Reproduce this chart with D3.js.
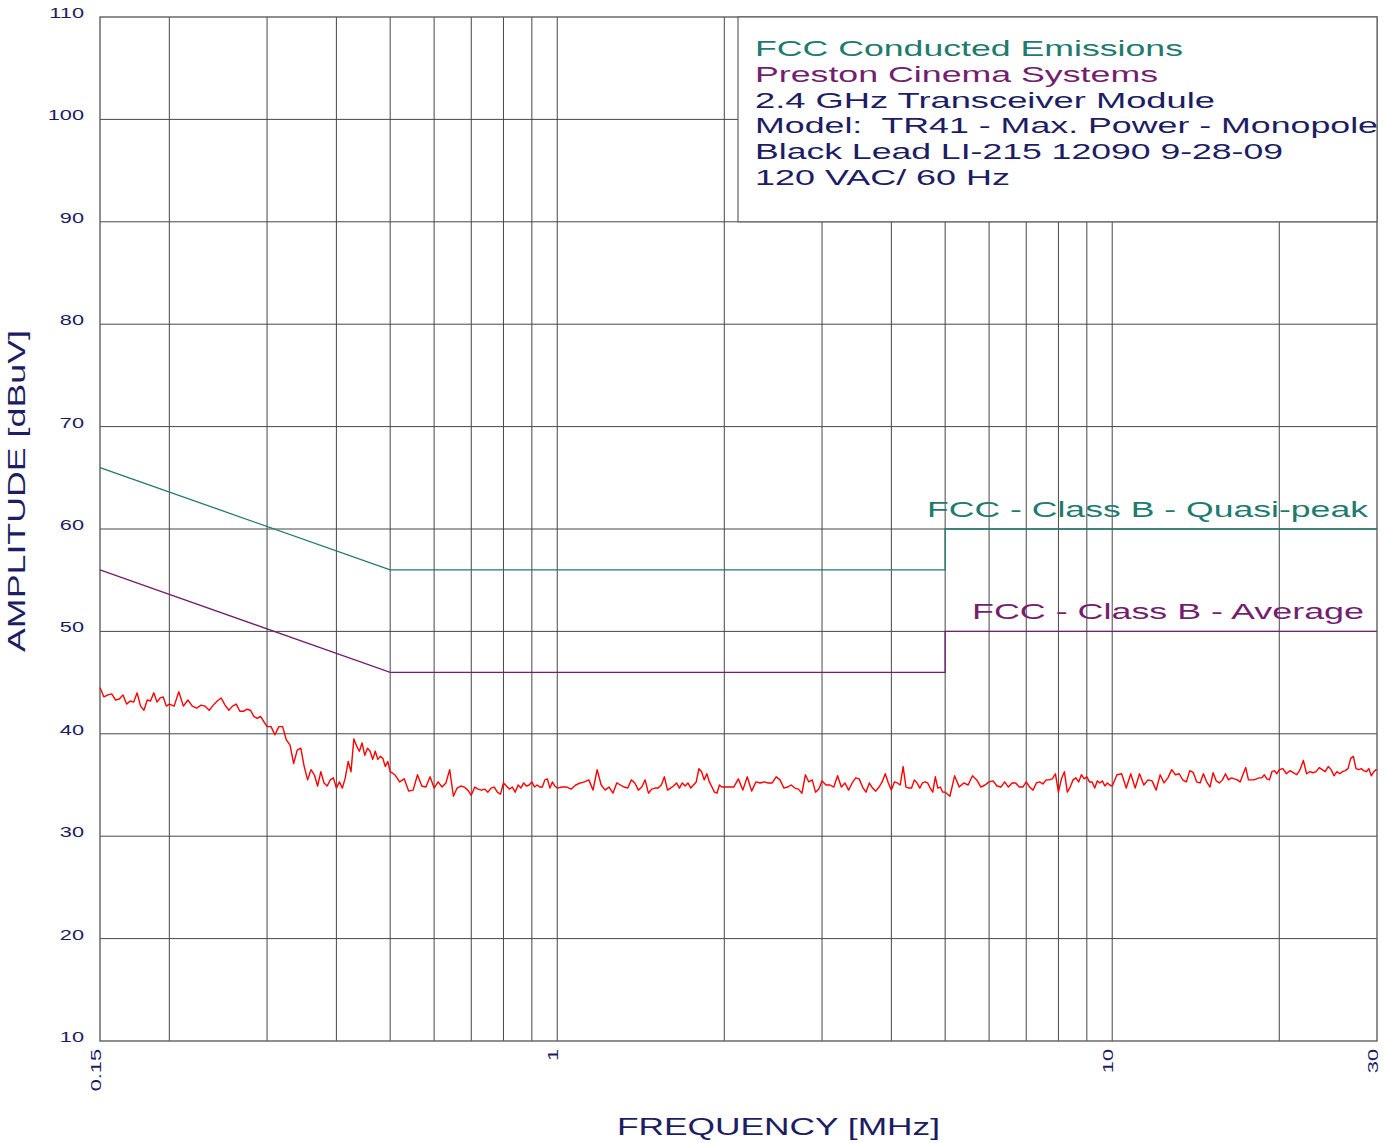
<!DOCTYPE html>
<html>
<head>
<meta charset="utf-8">
<script src="https://cdn.jsdelivr.net/npm/d3@7"></script>
<style>
  body { margin: 0; background: #fff; }
  svg { display: block; }
  text { font-family: "Liberation Sans", Arial, Helvetica, sans-serif; white-space: pre; }
</style>
</head>
<body>
<svg id="chart" width="1385" height="1143"></svg>
<script>
// ---- Axis ticks and grid ----
const yTicks = [10, 20, 30, 40, 50, 60, 70, 80, 90, 100, 110];
const xTickValues = [0.15, 1, 10, 30];
const xTickLabels = ["0.15", "1", "10", "30"];
const xGridValues = [0.2, 0.3, 0.4, 0.5, 0.6, 0.7, 0.8, 0.9, 1, 2, 3, 4, 5, 6, 7, 8, 9, 10, 20];

// ---- FCC Class B limits (dBuV) ----
const limitFreq = [0.15, 0.5, 5, 5, 30];
const quasiPeakLimit = [66, 56, 56, 60, 60];
const averageLimit = [56, 46, 46, 50, 50];

// ---- Measured emission sweep ----
const traceFreq = [
  0.15,0.1525,0.155,0.1575,0.16,0.1625,0.165,0.1675,0.17,0.1725,0.175,0.1775,0.18,0.1825,0.185,0.1875,0.19,0.1925,0.195,0.1975,0.2,
  0.204,0.208,0.212,0.216,0.22,0.224,0.228,0.232,0.236,0.24,0.244,0.248,0.252,0.256,0.26,0.264,0.268,0.272,0.276,0.28,0.284,0.288,0.292,0.296,0.3,
  0.305,0.31,0.315,0.32,0.325,0.33,0.335,0.34,0.345,0.35,0.355,0.36,0.365,0.37,0.375,0.38,0.385,0.39,0.395,0.4,
  0.405,0.41,0.415,0.42,0.425,0.43,0.435,0.44,0.445,0.45,0.455,0.46,0.465,0.47,0.475,0.48,0.485,0.49,0.495,0.5,
  0.51,0.52,0.53,0.54,0.55,0.56,0.57,0.58,0.59,0.6,0.61,0.62,0.63,0.64,0.65,0.66,0.67,0.68,0.69,0.7,
  0.71,0.72,0.73,0.74,0.75,0.76,0.77,0.78,0.79,0.8,0.81,0.82,0.83,0.84,0.85,0.86,0.87,0.88,0.89,0.9,
  0.91,0.92,0.93,0.94,0.95,0.96,0.97,0.98,0.99,1.0,
  1.02,1.04,1.06,1.08,1.1,1.12,1.14,1.16,1.18,1.2,1.22,1.24,1.26,1.28,1.3,1.32,1.34,1.36,1.38,1.4,
  1.42,1.44,1.46,1.48,1.5,1.52,1.54,1.56,1.58,1.6,1.62,1.64,1.66,1.68,1.7,1.72,1.74,1.76,1.78,1.8,
  1.82,1.84,1.86,1.88,1.9,1.92,1.94,1.96,1.98,2.0,
  2.04,2.08,2.12,2.16,2.2,2.24,2.28,2.32,2.36,2.4,2.44,2.48,2.52,2.56,2.6,2.64,2.68,2.72,2.76,2.8,2.84,2.88,2.92,2.96,3.0,
  3.05,3.1,3.15,3.2,3.25,3.3,3.35,3.4,3.45,3.5,3.55,3.6,3.65,3.7,3.75,3.8,3.85,3.9,3.95,4.0,
  4.05,4.1,4.15,4.2,4.25,4.3,4.35,4.4,4.45,4.5,4.55,4.6,4.65,4.7,4.75,4.8,4.85,4.9,4.95,5.0,
  5.1,5.2,5.3,5.4,5.5,5.6,5.7,5.8,5.9,6.0,6.1,6.2,6.3,6.4,6.5,6.6,6.7,6.8,6.9,7.0,
  7.1,7.2,7.3,7.4,7.5,7.6,7.7,7.8,7.9,8.0,8.1,8.2,8.3,8.4,8.5,8.6,8.7,8.8,8.9,9.0,
  9.1,9.2,9.3,9.4,9.5,9.6,9.7,9.8,9.9,10.0,
  10.2,10.4,10.6,10.8,11.0,11.2,11.4,11.6,11.8,12.0,12.2,12.4,12.6,12.8,13.0,13.2,13.4,13.6,13.8,14.0,
  14.2,14.4,14.6,14.8,15.0,15.2,15.4,15.6,15.8,16.0,16.2,16.4,16.6,16.8,17.0,17.2,17.4,17.6,17.8,18.0,
  18.2,18.4,18.6,18.8,19.0,19.2,19.4,19.6,19.8,20.0,
  20.3,20.6,20.9,21.2,21.5,21.8,22.1,22.4,22.7,23.0,23.3,23.6,23.9,24.2,24.5,24.8,25.1,25.4,25.7,26.0,
  26.3,26.6,26.9,27.2,27.5,27.8,28.1,28.4,28.7,29.0,29.3,29.6,29.9,30.0
];
const traceLevel = [
  44.5,43.6,43.8,43.9,43.3,43.4,43.8,42.9,43.2,43.1,44.0,42.7,42.3,43.3,43.2,44.0,43.1,43.5,43.6,42.7,42.9,
  42.7,44.1,42.7,43.3,42.7,42.5,42.8,42.7,42.3,42.8,43.2,43.5,42.8,42.3,42.7,42.9,42.2,42.2,42.4,42.3,41.7,41.5,41.7,41.2,40.7,
  40.7,39.9,40.7,40.7,39.4,38.9,37.1,38.4,38.6,36.8,35.5,36.5,36.0,34.9,36.3,35.2,34.9,35.5,35.7,34.7,
  35.3,34.7,35.7,37.3,36.3,39.5,38.8,38.3,39.1,37.9,38.6,38.3,37.5,38.3,37.5,37.8,37.6,36.8,37.3,36.3,
  36.0,35.3,35.6,34.4,34.5,36.0,34.9,34.8,35.8,34.7,35.3,34.8,35.2,36.5,33.9,34.7,34.9,34.8,34.5,34.0,
  34.8,34.6,34.5,34.6,34.3,34.7,34.8,34.3,34.1,35.2,34.9,34.6,34.8,34.3,35.0,34.7,35.2,34.9,35.0,35.3,
  34.8,35.0,34.8,34.8,35.5,35.6,34.7,35.3,34.9,34.7,
  34.8,34.8,34.6,35.0,35.2,35.3,35.5,34.5,36.5,35.0,34.5,34.8,34.2,35.2,35.0,34.8,34.7,35.5,35.2,34.5,
  34.8,35.5,34.2,34.6,34.7,34.7,35.0,35.8,34.5,34.7,34.9,35.2,34.7,35.2,34.9,35.2,34.7,35.0,35.3,36.6,
  36.3,35.5,36.1,35.3,34.8,34.3,34.2,35.0,34.8,34.8,
  34.8,34.8,35.6,34.5,35.8,34.4,35.3,35.2,35.3,35.2,35.2,35.8,35.5,34.7,34.8,35.0,34.7,34.6,34.2,36.0,35.3,35.5,34.3,34.6,35.4,
  35.0,35.0,34.8,35.9,34.8,35.2,34.5,35.2,35.7,35.6,34.8,34.3,35.2,34.7,34.4,34.8,35.3,36.1,35.2,34.5,
  35.3,35.2,35.0,36.8,34.8,34.7,34.7,35.5,35.2,34.7,35.2,35.3,35.2,34.7,34.3,35.8,34.7,34.8,34.3,34.3,
  33.9,35.9,34.8,35.2,35.0,35.9,35.5,34.8,35.0,35.3,35.4,34.9,34.8,35.3,34.8,35.2,35.2,34.8,34.8,35.3,
  34.8,34.5,35.2,35.3,35.1,35.5,35.5,35.6,36.1,34.3,35.6,36.3,34.3,34.8,35.5,35.7,35.3,36.0,35.6,35.8,
  35.3,35.3,34.7,35.4,35.2,35.4,34.9,35.2,35.0,34.9,
  36.0,36.1,34.7,36.1,34.7,36.1,35.0,35.5,35.4,34.5,36.0,35.2,35.7,36.5,36.0,36.1,35.5,35.3,36.4,36.2,
  35.3,35.2,36.1,35.3,34.8,36.2,35.4,35.2,35.5,36.1,35.5,35.7,35.6,35.5,35.3,36.0,36.7,35.5,35.5,35.5,
  35.6,35.7,35.7,36.0,35.6,35.5,36.3,36.4,36.1,36.5,
  36.6,36.1,36.4,36.2,36.0,36.5,37.4,36.1,36.3,36.2,36.3,36.7,36.5,36.3,36.8,36.5,35.9,36.3,36.1,36.3,
  36.4,36.6,37.6,37.8,36.6,36.5,36.6,36.4,36.3,36.6,35.9,36.3,36.5,36.5
];

// ---- Text content ----
const infoLines = [
  "FCC Conducted Emissions",
  "Preston Cinema Systems",
  "2.4 GHz Transceiver Module",
  "Model:  TR41 - Max. Power - Monopole",
  "Black Lead LI-215 12090 9-28-09",
  "120 VAC/ 60 Hz"
];
const quasiPeakLabel = "FCC - Class B - Quasi-peak";
const averageLabel = "FCC - Class B - Average";
const xTitle = "FREQUENCY [MHz]";
const yTitle = "AMPLITUDE [dBuV]";

// ---- Palette ----
const NAVY = "#1d1d63";
const TEAL = "#217a6f";
const PURPLE = "#731f6e";
const GRID = "#474747";

const svg = d3.select("#chart");

const x = d3.scaleLog().domain([0.15, 30]).range([100, 1377]);
const y = d3.scaleLinear().domain([10, 110]).range([1041, 17]);

// Grid
const grid = svg.append("g").attr("fill", "none").attr("stroke", GRID).attr("stroke-width", 1);
grid.selectAll("line.h")
  .data(yTicks.filter(v => v > 10 && v < 110))
  .join("line")
  .attr("x1", x(0.15)).attr("x2", x(30))
  .attr("y1", d => y(d)).attr("y2", d => y(d));
grid.selectAll("line.v")
  .data(xGridValues)
  .join("line")
  .attr("x1", d => x(d)).attr("x2", d => x(d))
  .attr("y1", y(10)).attr("y2", y(110));

// Plot frame
svg.append("rect")
  .attr("x", x(0.15)).attr("y", y(110))
  .attr("width", x(30) - x(0.15)).attr("height", y(10) - y(110))
  .attr("fill", "none").attr("stroke", "#606060").attr("stroke-width", 1.4);

// Limit lines
const limitLine = d3.line().x((d, i) => x(limitFreq[i])).y(d => y(d));
svg.append("path").attr("d", limitLine(quasiPeakLimit))
  .attr("fill", "none").attr("stroke", TEAL).attr("stroke-width", 1.3);
svg.append("path").attr("d", limitLine(averageLimit))
  .attr("fill", "none").attr("stroke", PURPLE).attr("stroke-width", 1.3);

// Emission trace
const traceLine = d3.line().x((d, i) => x(traceFreq[i])).y(d => y(d));
svg.append("path").attr("d", traceLine(traceLevel))
  .attr("fill", "none").attr("stroke", "#ff0000").attr("stroke-width", 1.4)
  .attr("stroke-linejoin", "round");

// Limit captions
function fitText(sel, len) {
  return sel.attr("textLength", len).attr("lengthAdjust", "spacingAndGlyphs");
}
fitText(svg.append("text").text(quasiPeakLabel)
  .attr("x", 927).attr("y", y(60) - 12)
  .attr("font-size", 22).attr("fill", TEAL), 441);
fitText(svg.append("text").text(averageLabel)
  .attr("x", 972).attr("y", y(50) - 12)
  .attr("font-size", 22).attr("fill", PURPLE), 392);

// Information box
const boxLeft = 738;
svg.append("rect")
  .attr("x", boxLeft).attr("y", y(110))
  .attr("width", x(30) - boxLeft).attr("height", y(90) - y(110))
  .attr("fill", "#fff").attr("stroke", "#606060").attr("stroke-width", 1.2);

const infoColors = [TEAL, PURPLE, NAVY, NAVY, NAVY, NAVY];
const infoWidths = [428, 403, 460, 623, 528, 255];
infoLines.forEach((s, i) => {
  fitText(svg.append("text").text(s)
    .attr("x", 755).attr("y", 56 + i * 25.8)
    .attr("xml:space", "preserve")
    .attr("font-size", 22).attr("fill", infoColors[i]), infoWidths[i]);
});

// Y tick labels
svg.append("g").selectAll("text")
  .data(yTicks)
  .join("text")
  .attr("transform", d => `translate(84,${y(d) + 1}) scale(1.45,1)`)
  .attr("text-anchor", "end")
  .attr("font-size", 15)
  .attr("fill", NAVY)
  .text(d => d);

// X tick labels (rotated)
svg.append("g").selectAll("text")
  .data(xTickValues)
  .join("text")
  .attr("transform", d => `translate(${x(d) + 1},1049) rotate(-90) scale(1.45,1)`)
  .attr("text-anchor", "end")
  .attr("font-size", 15)
  .attr("fill", NAVY)
  .text((d, i) => xTickLabels[i]);

// Axis titles
fitText(svg.append("text").text(xTitle)
  .attr("x", 617).attr("y", 1135)
  .attr("font-size", 24).attr("fill", NAVY), 323);
fitText(svg.append("text").text(yTitle)
  .attr("transform", "translate(25,491) rotate(-90)")
  .attr("text-anchor", "middle")
  .attr("font-size", 24).attr("fill", NAVY), 322);
</script>
</body>
</html>
